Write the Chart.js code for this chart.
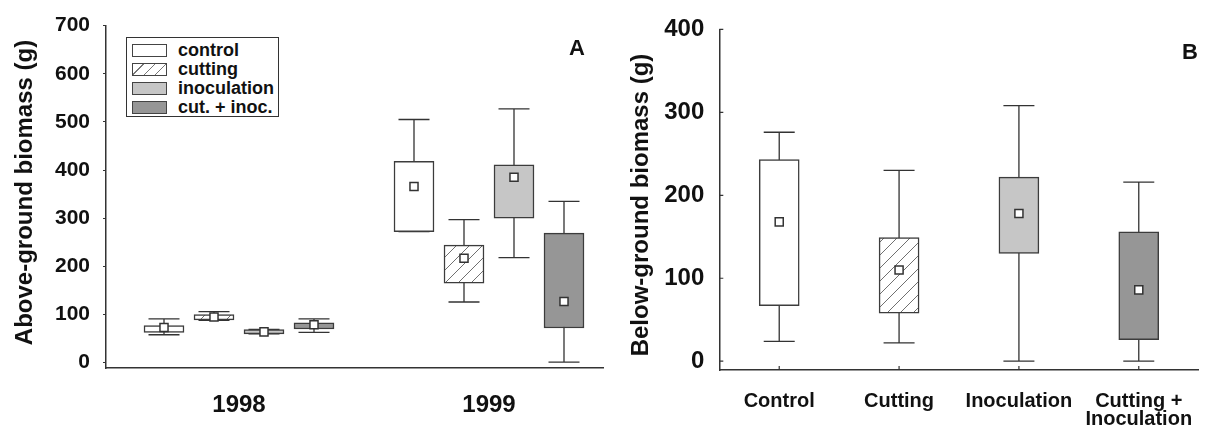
<!DOCTYPE html>
<html>
<head>
<meta charset="utf-8">
<script src="https://cdn.jsdelivr.net/npm/chart.js@4.4.0/dist/chart.umd.min.js"></script>
<style>
  body { margin: 0; background: #fff; }
  #wrap { position: relative; width: 1215px; height: 435px; overflow: hidden; }
  canvas { position: absolute; top: 0; }
  #boxA { left: 0; }
  #boxB { left: 615px; }
  .legend { position: absolute; left: 126px; top: 37px; width: 151px; height: 78px;
            border: 1.5px solid #333; background: #fff;
            font: bold 18px 'Liberation Sans', Arial, sans-serif; color: #111; }
  .legend .row { position: absolute; left: 0; width: 100%; height: 19px; line-height: 19px; }
  .legend .sw { position: absolute; left: 5px; top: 3px; width: 33px; height: 11px; border: 1.5px solid #444; }
  .legend .lbl { position: absolute; left: 51px; top: 0; white-space: nowrap; }
</style>
</head>
<body>
<div id="wrap">
  <canvas id="boxA" width="615" height="435"></canvas>
  <canvas id="boxB" width="600" height="435"></canvas>
  <div class="legend" id="legendA"></div>
</div>
<script>
// panel A: above-ground biomass, rows = treatment, columns = year
var years = ['1998', '1999'];
var treatments = ['control', 'cutting', 'inoculation', 'cut. + inoc.'];
var aboveLow  = [[58, 272], [88, 126], [60, 218], [63, 1]];
var aboveQ1   = [[63, 272], [89, 165], [60, 300], [70, 72]];
var aboveMean = [[73, 366], [95, 217], [64, 385], [79, 127]];
var aboveQ3   = [[77, 418], [100, 244], [69, 411], [83, 269]];
var aboveHigh = [[91, 505], [106, 297], [69, 527], [91, 335]];
var ticksA = [0, 100, 200, 300, 400, 500, 600, 700];

// panel B: below-ground biomass, one box per treatment
var groupsB = ['Control', 'Cutting', 'Inoculation', ['Cutting +', 'Inoculation']];
var belowLow  = [24, 22, 0, 0];
var belowQ1   = [67, 58, 130, 26];
var belowMean = [168, 110, 178, 86];
var belowQ3   = [243, 149, 222, 156];
var belowHigh = [276, 230, 308, 216];
var ticksB = [0, 100, 200, 300, 400];

var FONT = "'Liberation Sans', Arial, sans-serif";
var INK = '#111';
var LINE = '#333';

function hatchPattern() {
    var c = document.createElement('canvas');
    c.width = 13; c.height = 13;
    var g = c.getContext('2d');
    g.fillStyle = '#fff';
    g.fillRect(0, 0, 13, 13);
    g.strokeStyle = '#707070';
    g.lineWidth = 1;
    g.beginPath();
    g.moveTo(0, 13); g.lineTo(13, 0);
    g.moveTo(-2, 2); g.lineTo(2, -2);
    g.moveTo(11, 15); g.lineTo(15, 11);
    g.stroke();
    return document.getElementById('boxA').getContext('2d').createPattern(c, 'repeat');
}
var fills = ['#ffffff', hatchPattern(), '#c6c6c6', '#969696'];

// whiskers go under the boxes, the box fill hides the middle part
var whiskerPlugin = {
    id: 'whiskers',
    beforeDatasetsDraw: function(chart) {
        var ctx = chart.ctx, ys = chart.scales.y;
        ctx.save();
        ctx.strokeStyle = LINE;
        ctx.lineWidth = 1.3;
        chart.data.datasets.forEach(function(ds, i) {
            if (!ds.whiskers) return;
            var meta = chart.getDatasetMeta(i);
            ds.whiskers.forEach(function(w, j) {
                var x = meta.data[j].x;
                var lo = ys.getPixelForValue(w[0]), hi = ys.getPixelForValue(w[1]);
                ctx.beginPath();
                ctx.moveTo(x, lo); ctx.lineTo(x, hi);
                ctx.moveTo(x - 15.5, lo); ctx.lineTo(x + 15.5, lo);
                ctx.moveTo(x - 15.5, hi); ctx.lineTo(x + 15.5, hi);
                ctx.stroke();
            });
        });
        ctx.restore();
    }
};

// panel letter, rotated y title, and the short inward ticks of panel B
var decorPlugin = {
    id: 'decor',
    afterDraw: function(chart, args, opts) {
        var ctx = chart.ctx;
        ctx.save();
        ctx.fillStyle = INK;
        ctx.textAlign = 'center';
        ctx.textBaseline = 'middle';
        ctx.font = 'bold 22px ' + FONT;
        ctx.fillText(opts.letter, opts.lx, opts.ly);

        ctx.save();
        ctx.font = 'bold 24px ' + FONT;
        ctx.translate(opts.tx, opts.ty);
        ctx.rotate(-Math.PI / 2);
        ctx.fillText(opts.title, 0, 0);
        ctx.restore();

        if (opts.innerTicks) {
            var xs = chart.scales.x, ys = chart.scales.y, a = chart.chartArea;
            ctx.strokeStyle = LINE;
            ctx.lineWidth = 1.2;
            ctx.beginPath();
            ys.ticks.forEach(function(t) {
                var p = ys.getPixelForValue(t.value);
                ctx.moveTo(a.left, p); ctx.lineTo(a.left + 4, p);
            });
            xs.ticks.forEach(function(t, i) {
                var p = xs.getPixelForTick(i);
                ctx.moveTo(p, a.bottom); ctx.lineTo(p, a.bottom - 4);
            });
            ctx.stroke();
        }
        ctx.restore();
    }
};

var common = {
    responsive: false,
    animation: false,
    events: [],
    plugins: { legend: { display: false }, tooltip: { enabled: false } }
};

function boxStyle(fill) {
    return {
        backgroundColor: fill,
        borderColor: '#3c3c3c',
        borderWidth: 1.5,
        borderSkipped: false,
        barThickness: 40,
        grouped: false,
        order: 1
    };
}

var meanStyle = {
    showLine: false,
    pointStyle: 'rect',
    pointRadius: 5.7,
    pointBackgroundColor: '#fff',
    pointBorderColor: LINE,
    pointBorderWidth: 1.5,
    order: 0
};

// ---- panel A ----
var posA = function(t, g) { return g * 5 + t + 1; };
var dsA = treatments.map(function(name, t) {
    return Object.assign({
        type: 'bar',
        label: name,
        data: years.map(function(y, g) { return { x: posA(t, g), y: [aboveQ1[t][g], aboveQ3[t][g]] }; }),
        whiskers: years.map(function(y, g) { return [aboveLow[t][g], aboveHigh[t][g]]; })
    }, boxStyle(fills[t]));
});
var meansA = [];
treatments.forEach(function(n, t) {
    years.forEach(function(y, g) { meansA.push({ x: posA(t, g), y: aboveMean[t][g] }); });
});
dsA.push(Object.assign({ type: 'scatter', label: 'mean', data: meansA }, meanStyle));

new Chart(document.getElementById('boxA'), {
    type: 'bar',
    data: { datasets: dsA },
    plugins: [whiskerPlugin, decorPlugin],
    options: Object.assign({}, common, {
        layout: { padding: { top: 19.3, right: 12, left: 0, bottom: 0 } },
        plugins: Object.assign({}, common.plugins, {
            decor: { letter: 'A', lx: 577, ly: 49, title: 'Above-ground biomass (g)', tx: 25, ty: 192.5 }
        }),
        scales: {
            x: {
                type: 'linear', min: -0.16, max: 9.78, offset: false,
                afterBuildTicks: function(s) { s.ticks = years.map(function(y, g) { return { value: g * 5 + 2.5 }; }); },
                ticks: {
                    callback: function(v, i) { return years[i]; },
                    font: { family: FONT, size: 24, weight: 'bold' }, color: INK,
                    padding: 23, maxRotation: 0, autoSkip: false
                },
                grid: { display: false, drawTicks: false },
                border: { color: LINE, width: 1.5 },
                afterFit: function(s) { s.height = 67; }
            },
            y: {
                min: -11, max: 700,
                afterBuildTicks: function(s) { s.ticks = ticksA.map(function(v) { return { value: v }; }); },
                ticks: { font: { family: FONT, size: 21, weight: 'bold' }, color: INK, padding: 13 },
                grid: { drawOnChartArea: false, tickLength: 3, color: LINE, tickColor: LINE, tickWidth: 1.2 },
                border: { color: LINE, width: 1.5 },
                afterFit: function(s) { s.width = 106; }
            }
        }
    })
});

// ---- panel B ----
new Chart(document.getElementById('boxB'), {
    type: 'bar',
    data: {
        labels: groupsB,
        datasets: [
            Object.assign({
                type: 'bar',
                label: 'below-ground',
                data: groupsB.map(function(g, i) { return [belowQ1[i], belowQ3[i]]; }),
                whiskers: groupsB.map(function(g, i) { return [belowLow[i], belowHigh[i]]; })
            }, boxStyle(fills)),
            Object.assign({ type: 'line', label: 'mean', data: belowMean }, meanStyle)
        ]
    },
    plugins: [whiskerPlugin, decorPlugin],
    options: Object.assign({}, common, {
        layout: { padding: { top: 21.7, right: 0, left: 0, bottom: 0 } },
        plugins: Object.assign({}, common.plugins, {
            decor: { letter: 'B', lx: 575, ly: 53, title: 'Below-ground biomass (g)', tx: 26, ty: 205,
                     innerTicks: true }
        }),
        scales: {
            x: {
                type: 'category', offset: true,
                ticks: {
                    font: { family: FONT, size: 20, weight: 'bold', lineHeight: 0.9 }, color: INK,
                    padding: 22, maxRotation: 0, autoSkip: false
                },
                grid: { display: false, drawTicks: false },
                border: { color: LINE, width: 1.5 },
                afterFit: function(s) { s.height = 65; }
            },
            y: {
                min: -10.6, max: 400,
                afterBuildTicks: function(s) { s.ticks = ticksB.map(function(v) { return { value: v }; }); },
                ticks: { font: { family: FONT, size: 24, weight: 'bold' }, color: INK, padding: 15 },
                grid: { display: false, drawTicks: false },
                border: { color: LINE, width: 1.5 },
                afterFit: function(s) { s.width = 104.3; }
            }
        }
    })
});

// legend of panel A
var legend = document.getElementById('legendA');
var swatchCss = [
    'background:#fff',
    'background:repeating-linear-gradient(135deg,#fff 0 7px,#777 7px 8px)',
    'background:#c6c6c6',
    'background:#969696'
];
treatments.forEach(function(name, t) {
    var row = document.createElement('div');
    row.className = 'row';
    row.style.top = (3 + 19 * t) + 'px';
    row.innerHTML = '<span class="sw" style="' + swatchCss[t] + '"></span><span class="lbl">' + name + '</span>';
    legend.appendChild(row);
});
</script>
</body>
</html>
